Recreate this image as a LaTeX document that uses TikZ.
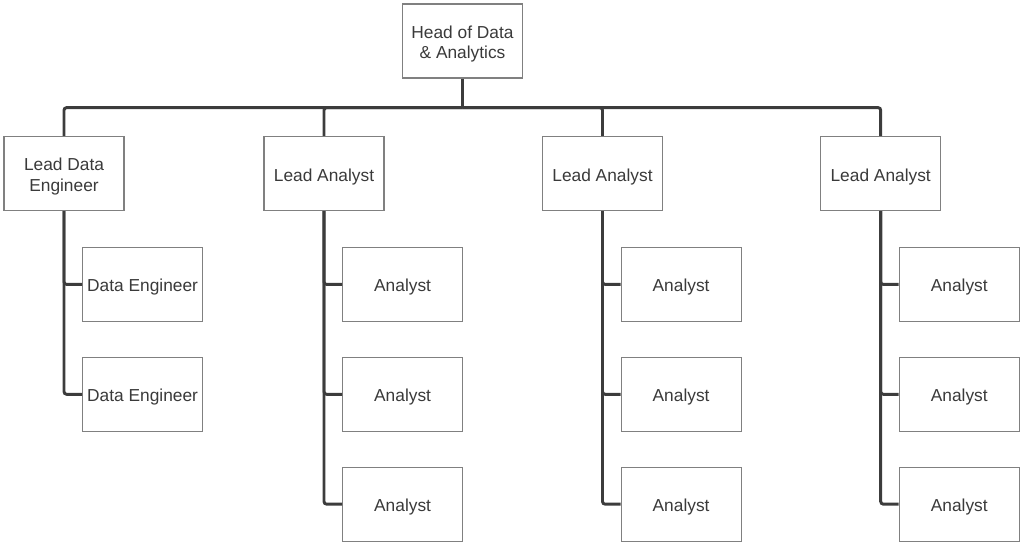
\documentclass[tikz,border=0pt]{standalone}
\usepackage{fontspec}
\setmainfont{Liberation Sans}
\usetikzlibrary{positioning, calc}

\definecolor{boxgray}{HTML}{808080}
\definecolor{linegray}{HTML}{3C3C3C}
\definecolor{textgray}{HTML}{3A3A3A}

\begin{document}
\begin{tikzpicture}[x=0.75pt, y=0.75pt]
\tikzset{
  box/.style ={draw=boxgray, line width=0.9pt, fill=white, align=center, inner sep=1pt,
               minimum width=90pt, minimum height=55.5pt, text=textgray,
               font=\fontsize{13pt}{15.5pt}\selectfont,
               execute at begin node={\rule{0pt}{14pt}}},
  box2/.style={box, execute at begin node={\rule{0pt}{29.5pt}}},
  conn/.style={draw=linegray, line width=2.2pt, rounded corners=2pt}
}
\useasboundingbox (0,0) rectangle (1024,-546);

% row 1
\node[box2] (head) at (462.5,-41) {Head of Data\\\& Analytics};
\coordinate (bus) at ($(head.south)+(0,-29)$);

% row 2 : leads
\node[box2] (lde) at (64,-173.5)   {Lead Data\\Engineer};
\node[box] (la1) at (324,-173.5)   {Lead Analyst};
\node[box] (la2) at (602.5,-173.5) {Lead Analyst};
\node[box] (la3) at (880.7,-173.5) {Lead Analyst};

\draw[conn] (head.south) -- (bus);
\draw[conn] (bus) -| (lde.north);
\draw[conn] (bus) -| (la1.north);
\draw[conn] (bus) -| (la2.north);
\draw[conn] (bus) -| (la3.north);

% row 3 : data engineers
\node[box, below right=26.8pt and 13.5pt of lde.south] (de1) {Data Engineer};
\node[box, below=26pt of de1] (de2) {Data Engineer};

\draw[conn] (lde.south) |- (de1.west);
\draw[conn] (lde.south) |- (de2.west);

% rows 3-5 : analysts
\node[box, below right=26.8pt and 13.5pt of la1.south] (a11) {Analyst};
\node[box, below=26pt of a11] (a12) {Analyst};
\node[box, below=26pt of a12] (a13) {Analyst};

\node[box, below right=26.8pt and 13.5pt of la2.south] (a21) {Analyst};
\node[box, below=26pt of a21] (a22) {Analyst};
\node[box, below=26pt of a22] (a23) {Analyst};

\node[box, below right=26.8pt and 13.5pt of la3.south] (a31) {Analyst};
\node[box, below=26pt of a31] (a32) {Analyst};
\node[box, below=26pt of a32] (a33) {Analyst};

\draw[conn] (la1.south) |- (a11.west);
\draw[conn] (la1.south) |- (a12.west);
\draw[conn] (la1.south) |- (a13.west);

\draw[conn] (la2.south) |- (a21.west);
\draw[conn] (la2.south) |- (a22.west);
\draw[conn] (la2.south) |- (a23.west);

\draw[conn] (la3.south) |- (a31.west);
\draw[conn] (la3.south) |- (a32.west);
\draw[conn] (la3.south) |- (a33.west);

\end{tikzpicture}
\end{document}
